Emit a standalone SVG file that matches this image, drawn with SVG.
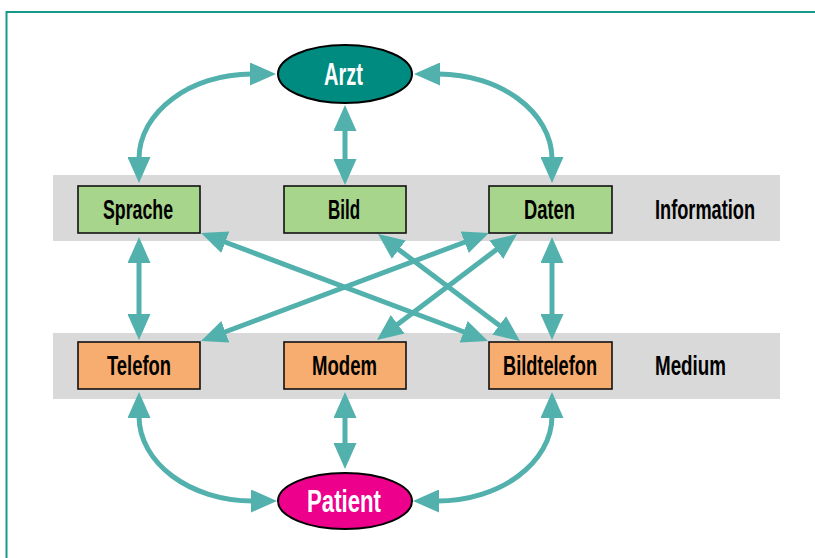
<svg xmlns="http://www.w3.org/2000/svg" width="815" height="558" viewBox="0 0 815 558">
<style>
.band{fill:#d9d9d9}
.box{stroke:#111;stroke-width:1.6}
.info{fill:#a8d58c}
.med{fill:#f8ad70}
.lbl{font-family:"Liberation Sans",Arial,sans-serif;font-weight:bold;font-size:27px;fill:#000}
.big{font-family:"Liberation Sans",Arial,sans-serif;font-weight:bold;font-size:32px;fill:#fff}
.con path{fill:none;stroke:#52b1ac;stroke-width:5;marker-start:url(#ah);marker-end:url(#ah)}
</style>
<defs>
<marker id="ah" viewBox="0 0 26 23" refX="2" refY="11.5" markerWidth="26" markerHeight="23" markerUnits="userSpaceOnUse" orient="auto-start-reverse">
<path d="M0,0 L26,11.5 L0,23 z" fill="#52b1ac"/>
</marker>
</defs>
<rect width="815" height="558" fill="#fff"/>
<path d="M815,12 L6.5,12 L6.5,558" fill="none" stroke="#16998b" stroke-width="2"/>
<g id="band-information">
<rect class="band" x="53" y="175" width="727" height="66"/>
<text class="lbl" x="655" y="219" textLength="100" lengthAdjust="spacingAndGlyphs">Information</text>
</g>
<g id="band-medium">
<rect class="band" x="53" y="333" width="727" height="66"/>
<text class="lbl" x="655" y="375" textLength="71" lengthAdjust="spacingAndGlyphs">Medium</text>
</g>
<g class="con" id="connectors">
<path d="M252,74 C190,74 139,112 139,159"/>
<path d="M438,74 C500,74 552,112 552,159"/>
<path d="M345,129 L345,161"/>
<path d="M139,261 L139,316"/>
<path d="M552,261 L552,316"/>
<path d="M223.5,241.5 L465.5,332.5"/>
<path d="M397.2,248.4 L500.8,326.6"/>
<path d="M466.5,241.5 L223.5,332.5"/>
<path d="M497.9,248.5 L396.1,325.5"/>
<path d="M139,416 C139,463 190,501 253,501"/>
<path d="M552,416 C552,463 500,501 437,501"/>
<path d="M345,416 L345,445"/>
</g>
<g id="arzt">
<ellipse cx="345" cy="74" rx="67" ry="29" fill="#008b80" stroke="#000" stroke-width="2"/>
<text class="big" x="324" y="85" textLength="39" lengthAdjust="spacingAndGlyphs">Arzt</text>
</g>
<g id="sprache">
<rect class="box info" x="78" y="186" width="122" height="47"/>
<text class="lbl" x="103" y="219" textLength="70" lengthAdjust="spacingAndGlyphs">Sprache</text>
</g>
<g id="bild">
<rect class="box info" x="284" y="186" width="122" height="47"/>
<text class="lbl" x="328" y="219" textLength="32" lengthAdjust="spacingAndGlyphs">Bild</text>
</g>
<g id="daten">
<rect class="box info" x="489" y="186" width="123" height="47"/>
<text class="lbl" x="524" y="219" textLength="51" lengthAdjust="spacingAndGlyphs">Daten</text>
</g>
<g id="telefon">
<rect class="box med" x="78" y="342" width="122" height="47"/>
<text class="lbl" x="107" y="375" textLength="64" lengthAdjust="spacingAndGlyphs">Telefon</text>
</g>
<g id="modem">
<rect class="box med" x="284" y="342" width="122" height="47"/>
<text class="lbl" x="312" y="375" textLength="65" lengthAdjust="spacingAndGlyphs">Modem</text>
</g>
<g id="bildtelefon">
<rect class="box med" x="489" y="342" width="123" height="47"/>
<text class="lbl" x="503" y="375" textLength="94" lengthAdjust="spacingAndGlyphs">Bildtelefon</text>
</g>
<g id="patient">
<ellipse cx="345" cy="501" rx="67" ry="28" fill="#ec008c" stroke="#000" stroke-width="2"/>
<text class="big" x="307" y="512" textLength="74" lengthAdjust="spacingAndGlyphs">Patient</text>
</g>
</svg>
